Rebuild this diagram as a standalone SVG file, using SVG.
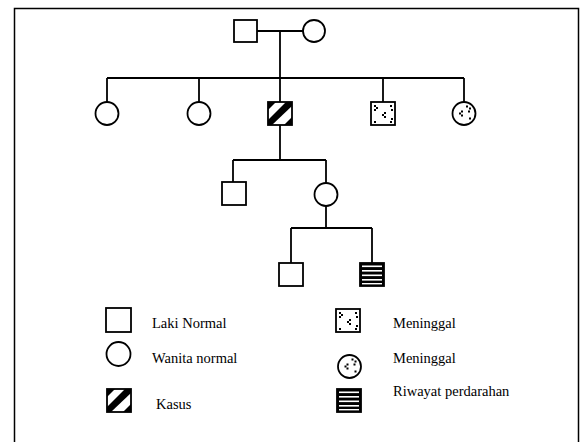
<svg xmlns="http://www.w3.org/2000/svg" width="580" height="442" viewBox="0 0 580 442">
<style>
.ln{stroke:#000;stroke-width:1.8;fill:none}
.nd{stroke:#000;stroke-width:1.8;fill:#fff}
.bd{stroke:#000;stroke-width:1.8;fill:none}
.tx{font-family:"Liberation Serif","Times New Roman",serif;font-size:14.5px;fill:#000}
</style>
<defs>
<g id="kasus">
<rect x="0" y="0" width="24" height="23" fill="#fff"/>
<polygon points="0,0 8,0 0,8" fill="#000"/>
<polygon points="18,0 24,0 24,4 4,23 0,23 0,18" fill="#000"/>
<polygon points="24,15 24,23 16,23" fill="#000"/>
<rect x="0" y="0" width="24" height="23" class="bd"/>
</g>
<g id="deadsq">
<rect x="0" y="0" width="24" height="23" class="nd"/>
<g fill="#000">
<rect x="3" y="3" width="2" height="2"/><rect x="5" y="5" width="2" height="2"/><rect x="3" y="7" width="2" height="2"/>
<rect x="19" y="3" width="2" height="2"/><rect x="20" y="7" width="2" height="2"/>
<rect x="13" y="10" width="2" height="2"/><rect x="11" y="12" width="2" height="2"/><rect x="13" y="14" width="2" height="2"/>
<rect x="3" y="19" width="2" height="2"/><rect x="19" y="19" width="2" height="2"/><rect x="20" y="16" width="2" height="2"/>
</g>
</g>
<g id="deadci">
<circle cx="0" cy="0" r="11.5" class="nd"/>
<g fill="#000">
<rect x="2" y="-8" width="2" height="2"/><rect x="5" y="-6" width="2" height="2"/><rect x="4" y="-3" width="2" height="2"/>
<rect x="-3" y="-3" width="2" height="2"/><rect x="-5" y="-1" width="2" height="2"/><rect x="-3" y="1" width="2" height="2"/>
<rect x="5" y="4" width="2" height="2"/>
</g>
</g>
<g id="stripe">
<rect x="0" y="0" width="24" height="23" fill="#000" stroke="#000" stroke-width="1.8"/>
<g fill="#fff">
<rect x="2" y="2.5" width="20" height="1.6"/>
<rect x="2" y="7" width="20" height="1.6"/>
<rect x="2" y="11.5" width="20" height="1.6"/>
<rect x="2" y="16" width="20" height="1.6"/>
<rect x="2" y="20" width="20" height="1.4"/>
</g>
</g>
</defs>
<rect x="14.5" y="8.5" width="564" height="440" fill="#fff" stroke="#000" stroke-width="1.5"/>
<g id="connectors" class="ln">
<line x1="257" y1="31" x2="303" y2="31"/>
<line x1="280" y1="31" x2="280" y2="102"/>
<line x1="107" y1="78" x2="464" y2="78"/>
<line x1="107" y1="78" x2="107" y2="102"/>
<line x1="199" y1="78" x2="199" y2="102"/>
<line x1="383" y1="78" x2="383" y2="102"/>
<line x1="464" y1="78" x2="464" y2="102"/>
<line x1="280" y1="125" x2="280" y2="160"/>
<line x1="233" y1="160" x2="326" y2="160"/>
<line x1="233" y1="160" x2="233" y2="182"/>
<line x1="326" y1="160" x2="326" y2="183"/>
<line x1="326" y1="206" x2="326" y2="228"/>
<line x1="291" y1="228" x2="372" y2="228"/>
<line x1="291" y1="228" x2="291" y2="263"/>
<line x1="372" y1="228" x2="372" y2="263"/>
</g>
<g id="father"><rect x="234" y="20" width="23" height="22" class="nd"/></g>
<g id="mother"><circle cx="314" cy="31" r="11" class="nd"/></g>
<g id="child1"><circle cx="107" cy="113.5" r="11.5" class="nd"/></g>
<g id="child2"><circle cx="199" cy="113.5" r="11.5" class="nd"/></g>
<g id="child3-kasus"><use href="#kasus" x="268" y="102"/></g>
<g id="child4-dead"><use href="#deadsq" x="371" y="102"/></g>
<g id="child5-dead"><use href="#deadci" x="464" y="113.5"/></g>
<g id="grandchild1"><rect x="222" y="182" width="24" height="23" class="nd"/></g>
<g id="grandchild2"><circle cx="326" cy="194.5" r="11.5" class="nd"/></g>
<g id="greatgrandchild1"><rect x="279" y="263" width="24" height="23" class="nd"/></g>
<g id="greatgrandchild2"><use href="#stripe" x="360" y="263"/></g>
<g id="legend">
<rect x="106" y="308" width="25" height="24" class="nd"/>
<text class="tx" x="152" y="328">Laki Normal</text>
<circle cx="118.5" cy="354" r="12" class="nd"/>
<text class="tx" x="152" y="363">Wanita normal</text>
<use href="#kasus" x="107" y="389"/>
<text class="tx" x="156" y="409">Kasus</text>
<use href="#deadsq" x="336" y="309"/>
<text class="tx" x="393" y="328">Meninggal</text>
<use href="#deadci" x="349.5" y="366.5"/>
<text class="tx" x="393" y="363">Meninggal</text>
<use href="#stripe" x="337" y="389"/>
<text class="tx" x="393" y="396">Riwayat perdarahan</text>
</g>
</svg>
